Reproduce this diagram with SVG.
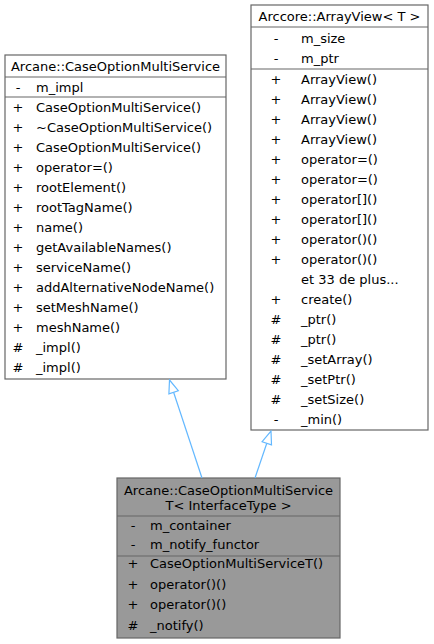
<svg xmlns="http://www.w3.org/2000/svg" width="434" height="644" viewBox="0 0 434 644">
<style>
text{font-family:"DejaVu Sans","Liberation Sans",sans-serif;font-size:13px;fill:#000}
.box{fill:#fff;stroke:#666;stroke-width:1.2}
.cur{fill:#999;stroke:#666;stroke-width:1.2}
.sep{stroke:#666;stroke-width:1.2;fill:none}
.c{text-anchor:middle}
.edge{stroke:#63b8ff;stroke-width:1.2;fill:none}
.head{stroke:#63b8ff;stroke-width:1.2;fill:#fff}
</style>
<rect width="434" height="644" fill="#fff"/>
<g id="node_CaseOptionMultiService">
<rect class="box" x="5" y="55" width="221" height="324"/>
<line class="sep" x1="5" y1="77" x2="226" y2="77"/>
<line class="sep" x1="5" y1="97" x2="226" y2="97"/>
<text class="c" x="115.5" y="71">Arcane::CaseOptionMultiService</text>
<text class="c" x="18" y="91.5">-</text><text x="36" y="91.5">m_impl</text>
<text class="c" x="18" y="112">+</text><text x="36" y="112">CaseOptionMultiService()</text>
<text class="c" x="18" y="132">+</text><text x="36" y="132">~CaseOptionMultiService()</text>
<text class="c" x="18" y="152">+</text><text x="36" y="152">CaseOptionMultiService()</text>
<text class="c" x="18" y="172">+</text><text x="36" y="172">operator=()</text>
<text class="c" x="18" y="192">+</text><text x="36" y="192">rootElement()</text>
<text class="c" x="18" y="212">+</text><text x="36" y="212">rootTagName()</text>
<text class="c" x="18" y="232">+</text><text x="36" y="232">name()</text>
<text class="c" x="18" y="252">+</text><text x="36" y="252">getAvailableNames()</text>
<text class="c" x="18" y="272">+</text><text x="36" y="272">serviceName()</text>
<text class="c" x="18" y="292">+</text><text x="36" y="292">addAlternativeNodeName()</text>
<text class="c" x="18" y="312">+</text><text x="36" y="312">setMeshName()</text>
<text class="c" x="18" y="332">+</text><text x="36" y="332">meshName()</text>
<text class="c" x="18" y="352">#</text><text x="36" y="352">_impl()</text>
<text class="c" x="18" y="372">#</text><text x="36" y="372">_impl()</text>
</g>
<g id="node_ArrayView">
<rect class="box" x="251" y="5" width="177" height="425"/>
<line class="sep" x1="251" y1="27" x2="428" y2="27"/>
<line class="sep" x1="251" y1="69" x2="428" y2="69"/>
<text class="c" x="339.5" y="21">Arccore::ArrayView&lt; T &gt;</text>
<text class="c" x="276" y="42.5">-</text><text x="301" y="42.5">m_size</text>
<text class="c" x="276" y="62.5">-</text><text x="301" y="62.5">m_ptr</text>
<text class="c" x="276" y="84">+</text><text x="301" y="84">ArrayView()</text>
<text class="c" x="276" y="104">+</text><text x="301" y="104">ArrayView()</text>
<text class="c" x="276" y="124">+</text><text x="301" y="124">ArrayView()</text>
<text class="c" x="276" y="144">+</text><text x="301" y="144">ArrayView()</text>
<text class="c" x="276" y="164">+</text><text x="301" y="164">operator=()</text>
<text class="c" x="276" y="184">+</text><text x="301" y="184">operator=()</text>
<text class="c" x="276" y="204">+</text><text x="301" y="204">operator[]()</text>
<text class="c" x="276" y="224">+</text><text x="301" y="224">operator[]()</text>
<text class="c" x="276" y="244">+</text><text x="301" y="244">operator()()</text>
<text class="c" x="276" y="264">+</text><text x="301" y="264">operator()()</text>
<text x="301" y="284">et 33 de plus...</text>
<text class="c" x="276" y="304">+</text><text x="301" y="304">create()</text>
<text class="c" x="276" y="324">#</text><text x="301" y="324">_ptr()</text>
<text class="c" x="276" y="344">#</text><text x="301" y="344">_ptr()</text>
<text class="c" x="276" y="364">#</text><text x="301" y="364">_setArray()</text>
<text class="c" x="276" y="384">#</text><text x="301" y="384">_setPtr()</text>
<text class="c" x="276" y="404">#</text><text x="301" y="404">_setSize()</text>
<text class="c" x="276" y="424">-</text><text x="301" y="424">_min()</text>
</g>
<g id="node_CaseOptionMultiServiceT">
<rect class="cur" x="117" y="478" width="223" height="160"/>
<line class="sep" x1="117" y1="516" x2="340" y2="516"/>
<line class="sep" x1="117" y1="556" x2="340" y2="556"/>
<text class="c" x="228.5" y="495">Arcane::CaseOptionMultiService</text>
<text class="c" x="228.5" y="510">T&lt; InterfaceType &gt;</text>
<text class="c" x="133" y="530">-</text><text x="150" y="530">m_container</text>
<text class="c" x="133" y="549">-</text><text x="150" y="549">m_notify_functor</text>
<text class="c" x="133" y="568">+</text><text x="150" y="568">CaseOptionMultiServiceT()</text>
<text class="c" x="133" y="588.5">+</text><text x="150" y="588.5">operator()()</text>
<text class="c" x="133" y="609">+</text><text x="150" y="609">operator()()</text>
<text class="c" x="133" y="629.5">#</text><text x="150" y="629.5">_notify()</text>
</g>
<g id="connectors">
<line class="edge" x1="202" y1="478" x2="173.6" y2="392.3"/>
<polygon class="head" points="169.5,380 178.3,390.7 168.9,393.9"/>
<line class="edge" x1="255" y1="478" x2="266.8" y2="443.3"/>
<polygon class="head" points="271,431 271.5,444.9 262.1,441.7"/>
</g>
</svg>
